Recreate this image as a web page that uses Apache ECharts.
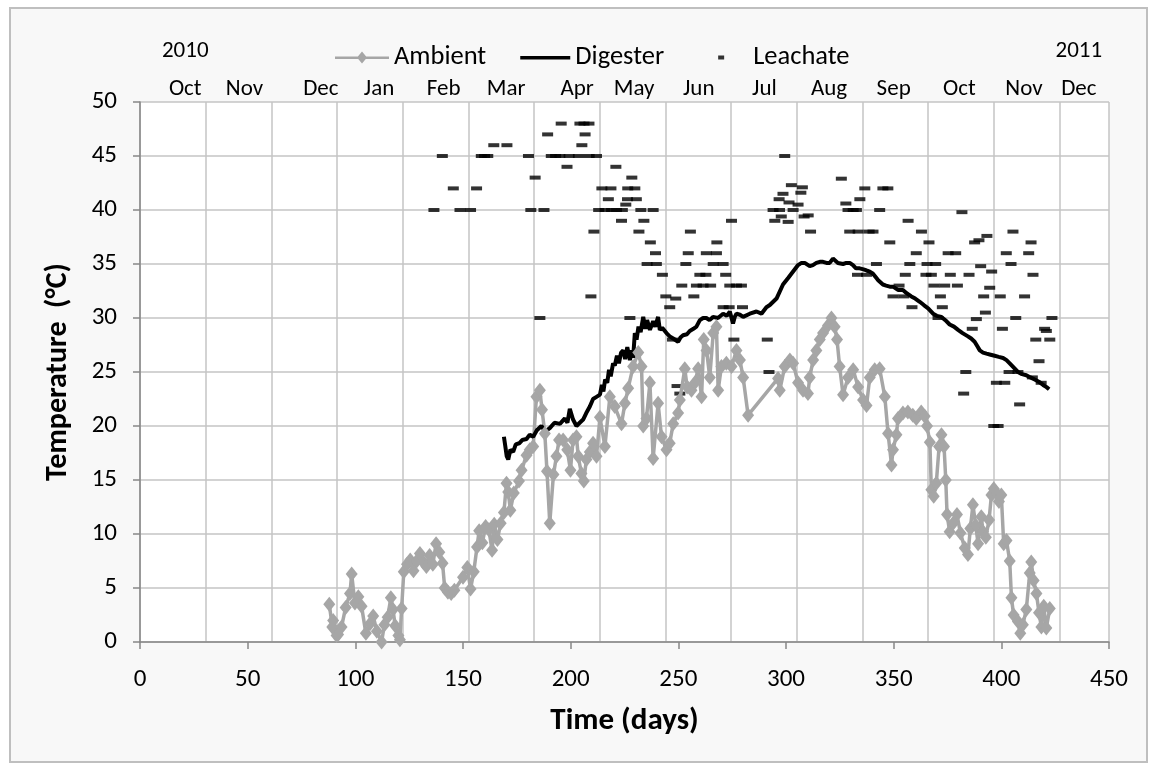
<!DOCTYPE html>
<html>
<head>
<meta charset="utf-8">
<script src="https://cdn.jsdelivr.net/npm/echarts@6/dist/echarts.min.js"></script>
<style>
  html, body { margin: 0; padding: 0; background: #fff; }
  #frame {
    position: absolute; left: 9px; top: 7px; width: 1139px; height: 756px;
    box-sizing: border-box; border: 2px solid #bfbfbf; background: #f8f8f8;
  }
  #chart { width: 100%; height: 100%; }
</style>
</head>
<body>
<div id="frame"><div id="chart"></div></div>
<script>
// days since start, temperature in deg C
const ambient = [
  [87.9,3.5],[89.3,1.4],[89.7,2.0],[91.3,0.6],[92,0.7],[93.6,1.4],[95.5,3.2],[97.5,4.5],[98.3,6.3],
  [99.8,3.6],[101.4,4.2],[102.9,3.3],[104.9,0.8],[106.8,1.7],[108.3,2.4],[110,1.0],[112.2,0.0],
  [113.5,1.6],[115,2.3],[116.5,4.1],[117.5,3.0],[118.5,1.5],[120,0.6],[120.7,0.2],[121.5,3.1],
  [122.5,6.5],[124,7.2],[125.5,7.6],[127,6.6],[128.5,7.5],[130,8.2],[131.5,7.4],[133,7.0],
  [134.5,8.0],[136,7.2],[137.5,9.1],[139,8.3],[140.5,7.3],[141.5,5.0],[143,4.6],[144.5,4.5],
  [146,4.8],[150,6.0],[152,6.9],[153.5,4.9],[155,6.5],[156.5,8.8],[157.5,10.3],[159,9.2],
  [160.5,10.7],[162,10.4],[163.5,8.5],[164.5,10.9],[166,9.5],[167.5,11.0],[169,12.0],
  [170.2,14.7],[171,13.9],[172,12.2],[173.6,13.8],[176,14.9],[177.2,15.9],[179.5,17.3],[181,17.8],
  [182.6,18.1],[184.1,22.7],[185.7,23.3],[186.7,21.5],[188,19.3],[189,15.8],[190.3,11.0],[192,15.5],
  [193.4,17.2],[194.6,18.7],[196.5,18.7],[198.4,17.8],[199.9,15.9],[201.1,18.7],[202.7,19.0],
  [203.5,17.2],[205,15.6],[206.1,14.9],[207.3,16.9],[208.9,17.6],[210.4,18.4],[212,17.2],
  [213.6,20.8],[215.9,18.1],[218.2,22.7],[220.5,21.8],[223.6,20.2],[225.2,22.1],[226.7,23.5],
  [229,25.5],[231.4,26.8],[232.9,25.5],[233.7,20.0],[235.2,20.7],[236.8,24.0],[238.3,17.0],
  [240.6,22.1],[242.2,19.0],[244.5,17.8],[246,18.4],[247.6,20.2],[249.9,21.2],[250.7,22.4],
  [253,25.3],[254.1,23.6],[256.1,23.3],[257.7,24.0],[259.2,25.3],[260.8,22.7],[261.8,28.0],
  [263.1,27.0],[264.6,24.5],[266.2,28.6],[267.7,29.2],[268.5,23.3],[270,25.5],[272.3,25.8],
  [274.7,25.5],[277,27.0],[278.6,26.1],[280.1,24.5],[282.4,21.0],[296.3,24.4],[297.1,23.3],
  [299.4,25.5],[301.8,26.1],[303.3,25.8],[305.6,24.0],[307.9,23.3],[310.2,23.0],[311,24.5],
  [312.6,26.1],[314.1,27.0],[315.7,28.0],[317.2,28.6],[319.5,29.3],[321.1,30.0],[322.6,29.2],
  [323.7,28.0],[324.9,25.5],[326.5,22.9],[328.8,24.5],[331.2,25.2],[333.5,23.6],[335.8,22.4],
  [337.4,21.9],[338.9,24.5],[341.2,25.2],[343.5,25.3],[345.9,22.7],[347.4,19.3],[349,16.4],
  [349.7,17.8],[351.3,19.2],[352,20.7],[354.3,21.2],[356.6,21.3],[358.9,21.0],[360.5,20.7],
  [362.8,21.3],[364.4,20.9],[365.5,20.0],[366.8,18.5],[367.5,14.1],[368.6,13.5],[369.8,14.7],
  [371.1,18.1],[372.2,19.2],[373.4,18.1],[374.2,15.0],[374.8,11.8],[376,10.2],[377.6,11.0],
  [379.4,11.8],[381,10.1],[383,8.7],[384.5,8.1],[385.6,10.5],[386.8,12.7],[388.1,10.8],
  [389.2,9.1],[390.7,11.6],[391.5,10.2],[392.8,9.7],[394.3,11.3],[395.4,13.6],[396.5,14.2],
  [397.7,13.8],[398.9,13.0],[400,13.6],[401.1,9.1],[402.4,9.4],[403.9,7.5],[404.7,4.1],
  [405.7,2.5],[407.7,1.9],[408.8,0.8],[410,1.6],[411.6,3.0],[413.2,6.4],[413.9,7.4],[415,5.7],
  [416.3,4.5],[417.5,2.7],[418.6,1.4],[419.7,3.3],[420.9,1.3],[422.5,3.1]
];

const digester = [
  [169,19.0],[169.6,18.2],[170.3,17.2],[171,16.9],[172,17.8],[173.3,17.6],[174.5,18.3],[176.1,18.4],
  [177.5,18.7],[179.5,18.8],[181,19.2],[182.6,19.0],[184.3,19.6],[186.4,20.0],[188.2,19.5],
  [190.3,19.8],[192.5,20.3],[195,20.2],[197.3,20.7],[198.5,20.3],[199.6,21.6],[201.1,20.6],
  [202.7,20.0],[204.2,20.3],[205.8,20.6],[207.5,21.3],[208.9,21.8],[210.4,22.5],[212,22.7],
  [213.6,22.9],[214.5,23.8],[215.2,23.2],[216,24.3],[217,24.0],[217.8,25.2],[218.6,24.6],
  [219.7,25.8],[220.5,25.6],[221.5,26.5],[222.4,25.8],[223.4,26.8],[224.4,27.0],[225.3,26.2],
  [226.3,27.3],[227.5,26.1],[228.3,27.0],[229,26.3],[229.8,28.6],[230.6,28.0],[231.5,29.2],
  [232.5,28.7],[233.7,30.1],[234.7,29.0],[235.5,29.8],[236.8,28.9],[238.3,29.7],[239.3,29.2],
  [240.6,30.1],[241.4,28.9],[242.5,29.1],[244.5,28.6],[246,28.3],[247.6,28.1],[249.9,27.8],
  [251,28.2],[252.2,28.4],[254,28.5],[255.3,28.8],[257,29.0],[258.4,29.2],[260,29.8],[261.5,30.0],
  [263,30.0],[264.5,29.8],[266.1,30.1],[268.4,30.0],[270.8,30.4],[272.5,30.2],[273.9,30.6],
  [275.4,29.5],[276.2,30.1],[277,30.4],[278.6,30.3],[280.1,30.1],[283.2,30.4],[286.3,30.6],
  [288.6,30.4],[290.9,31.0],[292.5,31.2],[295.6,31.8],[298.6,33.1],[301,33.7],[303.3,34.3],
  [305.6,34.9],[307.2,35.1],[308.7,35.1],[309.5,35.2],[311,34.8],[312.5,34.9],[314.1,35.1],
  [315.7,35.2],[317.2,35.2],[318.8,35.1],[320.3,35.1],[321.8,35.5],[322.6,35.4],[324.1,35.1],
  [324.9,35.2],[326.5,35.0],[328,35.1],[329.6,35.1],[331.1,34.9],[332.5,34.6],[334.2,34.6],
  [336,34.5],[337.4,34.4],[338.9,34.3],[340.4,34.1],[342,33.7],[342.8,33.5],[345,33.1],
  [346.5,33.0],[348.2,32.9],[349.7,32.9],[352,32.6],[354.3,32.6],[356,32.3],[358.2,32.0],
  [360,31.8],[362.1,31.5],[364,31.2],[366,30.9],[368.3,30.4],[370,30.2],[372.2,30.1],[374,29.8],
  [376,29.4],[378,29.2],[379.9,28.9],[382,28.6],[384.5,28.3],[386,28.1],[387.6,27.8],[388.8,27.4],
  [390,27.0],[391.5,26.8],[393.1,26.7],[395,26.6],[396.9,26.5],[398.8,26.4],[400.8,26.3],
  [402.4,26.1],[403.9,25.8],[405.8,25.4],[407.7,25.0],[409.6,24.8],[411.6,24.7],[413.5,24.5],
  [415.5,24.3],[417.4,24.1],[419.4,23.8],[421,23.6],[422.2,23.4]
];

const leachate = [
  [136.5,40],[140.4,45],[145.5,42],[148.6,40],[153.5,40],[156.3,42],[158.5,45],[160,45],[161.5,45],
  [164.3,46],[170.4,46],[180.4,45],[181.5,40],[183.5,43],[185.7,30],[187.6,40],[189.3,47],[191,45],
  [193,45],[195,45],[195.6,48],[198.3,44],[199.3,45],[203.6,45],[204.3,48],[205.2,46],[206.2,48],
  [206.7,47],[208.5,48],[208.6,45],[209.4,32],[210.8,38],[212,45],[213,40],[214.5,42],[216,40],
  [217.5,41],[218.7,42],[219,40],[221,44],[221.3,40],[223.6,39],[224,40],[225.6,40.5],[226.4,41],
  [226.5,42],[227.5,30],[228.4,43],[229.8,42],[230.5,41],[231.7,38],[232.6,40],[234,39],[235.5,35],
  [237,37],[238.3,40],[239.4,36],[239.8,35],[242.6,34],[244.2,32],[246,31],[247.3,28],[248.8,31.8],
  [249.4,23.7],[250.7,23],[251.6,33],[253.5,35],[254.6,36],[255.6,38],[257.2,32],[258.4,33],[260,34],
  [261.5,33],[262.8,34],[263,36],[265,33],[266.2,35],[267.7,36],[267.9,37],[270.8,35],[270.8,31],
  [272,34],[273.6,31],[273.9,33],[274.7,39],[275.8,28],[277,33],[279.3,33],[279.8,31],[291.3,28],
  [292.1,25],[294,40],[294.8,39],[296.8,41],[297,40],[297.8,39.4],[298.6,41.5],[299.4,45],[301,38.9],
  [301.4,40.7],[302.5,42.3],[303.3,40],[305.6,40.5],[306.9,41.6],[307.6,42.1],[308.4,39.4],
  [310.3,39.5],[311.4,38],[325.7,42.9],[327.8,40.6],[328.8,40],[329.6,38],[331.2,40],[332.7,40],
  [333.2,34],[333.5,38],[334.3,41],[336.6,42],[337.4,34],[338.6,38],[340.4,38],[342,35],[343.5,40],
  [345,42],[347.3,42],[348.2,37],[349.7,32],[352.5,33],[354.7,32],[355.4,34],[356.7,39],[357.5,35],
  [358.5,31],[360.5,36],[362.9,38],[365,34],[365.5,35],[366.4,37],[367.5,34],[368.7,33],[369.5,35],
  [370.6,30],[371.7,32],[372.6,31],[373.7,33],[375.3,36],[376.3,34],[378.8,36],[379.6,33],
  [381.7,39.8],[382.5,23],[383.5,25],[385,34],[386.5,29],[387.6,37],[388.4,29.9],[389.6,37.2],
  [390.4,34.8],[391.8,32],[392.6,30.5],[393.3,37.6],[394.6,32.8],[395.5,34.3],[396.5,20],[397.7,24],
  [398.5,20],[399.5,32],[400.5,29],[401.6,24],[402.3,36],[403.6,25],[404.5,35],[405.4,38],[406.7,30],
  [407.7,25],[408.5,22],[410.8,32],[412.7,36],[413.8,37],[414.4,24.5],[414.7,34],[416,28],[417.5,26],
  [418.5,24],[420.1,29],[420.9,28.8],[422.5,28],[423.5,30]
];

const monthNames = ['Oct','Nov','Dec','Jan','Feb','Mar','Apr','May','Jun','Jul','Aug','Sep','Oct','Nov','Dec'];
const monthLabelDays = [21, 48.5, 84, 111, 141, 170, 203, 229.5, 259.5, 290, 320, 350, 380.5, 410.5, 436];
const yearLabels = { 0: '2010', 14: '2011' };

const FONT = 'Carlito, Lato, sans-serif';
const chart = echarts.init(document.getElementById('chart'));

chart.setOption({
  backgroundColor: '#f8f8f8',
  animation: false,
  textStyle: { fontFamily: FONT },
  legend: {
    top: 30,
    left: 319,
    itemWidth: 54,
    itemHeight: 14,
    itemGap: 30,
    textStyle: { fontSize: 26.5, color: '#000', fontFamily: FONT },
    data: [
      { name: 'Ambient', icon: 'path://M0,0 M54,14 M0,6 L54,6 L54,8.5 L0,8.5 Z M27,1 L32,7 L27,13 L22,7 Z' },
      { name: 'Digester', icon: 'path://M0,0 M54,14 M4,5.5 L54,5.5 L54,9 L4,9 Z' },
      { name: 'Leachate', icon: 'path://M0,0 M54,14 M24,5 L30,5 L30,9 L24,9 Z' }
    ]
  },
  grid: {
    left: 129, right: 37, top: 93, bottom: 119,
    show: true, backgroundColor: '#fff', borderWidth: 0
  },
  xAxis: [
    {
      type: 'value', position: 'bottom', min: 0, max: 450, interval: 50,
      axisLine: { lineStyle: { color: '#868686', width: 1.5 } },
      axisTick: { length: 7, lineStyle: { color: '#868686', width: 1.5 } },
      splitLine: { show: false },
      axisLabel: { fontSize: 25, color: '#000', margin: 25, fontFamily: FONT },
      name: 'Time (days)', nameLocation: 'middle', nameGap: 64,
      nameTextStyle: { fontSize: 31, fontWeight: 'bold', color: '#000', fontFamily: FONT }
    },
    {
      type: 'value', position: 'top', min: 0, max: 450, interval: 30.5,
      axisLine: { show: false }, axisTick: { show: false }, axisLabel: { show: false },
      splitLine: { show: true, lineStyle: { color: '#c4c4c4', width: 1.5 } }
    },
    {
      type: 'value', position: 'top', min: 0, max: 450,
      axisLine: { show: false }, axisTick: { show: false }, splitLine: { show: false },
      axisLabel: {
        customValues: monthLabelDays,
        fontSize: 23, color: '#000', margin: 3, lineHeight: 19, fontFamily: FONT,
        formatter: function (v) {
          const i = monthLabelDays.indexOf(v);
          const yr = yearLabels[i];
          return yr ? yr + '\n\n' + monthNames[i] : monthNames[i];
        }
      }
    }
  ],
  yAxis: {
    type: 'value', min: 0, max: 50, interval: 5,
    axisLine: { show: true, lineStyle: { color: '#868686', width: 1.5 } },
    axisTick: { show: true, length: 7, lineStyle: { color: '#868686', width: 1.5 } },
    splitLine: { lineStyle: { color: '#c4c4c4', width: 1.5 } },
    axisLabel: { fontSize: 25, color: '#000', margin: 23, fontFamily: FONT },
    name: 'Temperature  (°C)', nameLocation: 'middle', nameGap: 67,
    nameTextStyle: { fontSize: 30, fontWeight: 'bold', color: '#000', fontFamily: FONT }
  },
  series: [
    {
      name: 'Ambient', type: 'line', xAxisIndex: 0, data: ambient,
      symbol: 'diamond', symbolSize: [12, 15], showSymbol: true,
      lineStyle: { color: '#a6a6a6', width: 3.5 },
      itemStyle: { color: '#a6a6a6' }
    },
    {
      name: 'Digester', type: 'line', xAxisIndex: 0, data: digester,
      symbol: 'none', showSymbol: false,
      lineStyle: { color: '#000', width: 4 },
      itemStyle: { color: '#000' }
    },
    {
      name: 'Leachate', type: 'scatter', xAxisIndex: 0, data: leachate,
      symbol: 'rect', symbolSize: [11, 4],
      itemStyle: { color: '#000' }
    }
  ]
});
</script>
</body>
</html>
